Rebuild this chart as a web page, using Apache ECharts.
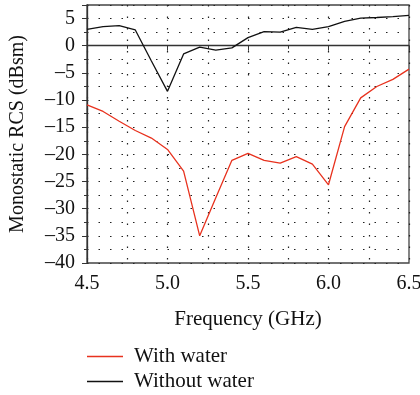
<!DOCTYPE html>
<html><head><meta charset="utf-8">
<script src="https://cdn.jsdelivr.net/npm/echarts@6/dist/echarts.min.js"></script>
<style>html,body{margin:0;padding:0;background:#fff}#c{width:420px;height:395px}</style>
</head><body><div id="c"></div>
<script>
const frequency = [4.5,4.6,4.7,4.8,4.9,5.0,5.1,5.2,5.3,5.4,5.5,5.6,5.7,5.8,5.9,6.0,6.1,6.2,6.3,6.4,6.5];
const withWater = [-10.9,-12.1,-13.9,-15.6,-17.0,-19.1,-23.1,-35.0,-28.0,-21.1,-19.8,-21.1,-21.6,-20.4,-21.8,-25.6,-14.9,-9.6,-7.5,-6.2,-4.3];
const withoutWater = [3.0,3.5,3.7,2.9,-2.8,-8.4,-1.5,-0.25,-0.8,-0.4,1.5,2.6,2.5,3.4,3.0,3.5,4.5,5.1,5.2,5.35,5.6];
const seriesNames = ['With water','Without water'];
const xTicks = [4.5,5.0,5.5,6.0,6.5];
const yTicks = [-40,-35,-30,-25,-20,-15,-10,-5,0,5];

const font = 'Liberation Serif, DejaVu Serif, serif';
const dotted = {show:true, lineStyle:{color:'#222', type:[1.5,10], width:1.2}};
const legendBase = {orient:'vertical', left:87, itemWidth:36, itemHeight:1.5, icon:'rect', padding:0,
    textStyle:{color:'#111', fontFamily:font, fontSize:21, padding:[0,0,0,6]}};
const chart = echarts.init(document.getElementById('c'));
chart.setOption({
  animation:false,
  grid:{left:87, right:11, top:5, bottom:132, show:true, borderColor:'#444', borderWidth:1.3, outerBoundsMode:'none', containLabel:false},
  xAxis:{type:'value', min:4.5, max:6.5, interval:0.5, minorTick:{show:true, splitNumber:2, length:3, lineStyle:{color:'#333'}},
    axisLine:{lineStyle:{color:'#333', width:1.3}}, axisTick:{length:5, lineStyle:{color:'#333'}},
    splitLine:dotted, minorSplitLine:dotted,
    axisLabel:{color:'#111', fontFamily:font, fontSize:20, margin:11, formatter:v=>xTicks.includes(+v.toFixed(1))?v.toFixed(1):''},
    name:'Frequency (GHz)', nameLocation:'middle', nameGap:46, nameTextStyle:{color:'#111', fontFamily:font, fontSize:21}},
  yAxis:{type:'value', min:-40, max:7.5, interval:5, minorTick:{show:true, splitNumber:2, length:3, lineStyle:{color:'#333'}},
    axisLine:{show:true, lineStyle:{color:'#333', width:1.3}}, axisTick:{show:true, length:5, lineStyle:{color:'#333'}},
    splitLine:dotted, minorSplitLine:dotted,
    axisLabel:{color:'#111', fontFamily:font, fontSize:20, margin:12, formatter:v=>yTicks.includes(v)?(v<0?'\u2013'+(-v):String(v)):''},
    name:'Monostatic RCS (dBsm)', nameLocation:'middle', nameGap:59, nameTextStyle:{color:'#111', fontFamily:font, fontSize:20}},
  legend:[
    Object.assign({}, legendBase, {top:346, data:[seriesNames[0]]}),
    Object.assign({}, legendBase, {top:371, data:[seriesNames[1]]})
  ],
  series:[
    {name:seriesNames[0], type:'line', symbol:'none', data:frequency.map((f,i)=>[f,withWater[i]]), lineStyle:{color:'#e8321e', width:1.3}, itemStyle:{color:'#e8321e'}},
    {name:seriesNames[1], type:'line', symbol:'none', data:frequency.map((f,i)=>[f,withoutWater[i]]), lineStyle:{color:'#111', width:1.3}, itemStyle:{color:'#111'}}
  ]
});
</script></body></html>
